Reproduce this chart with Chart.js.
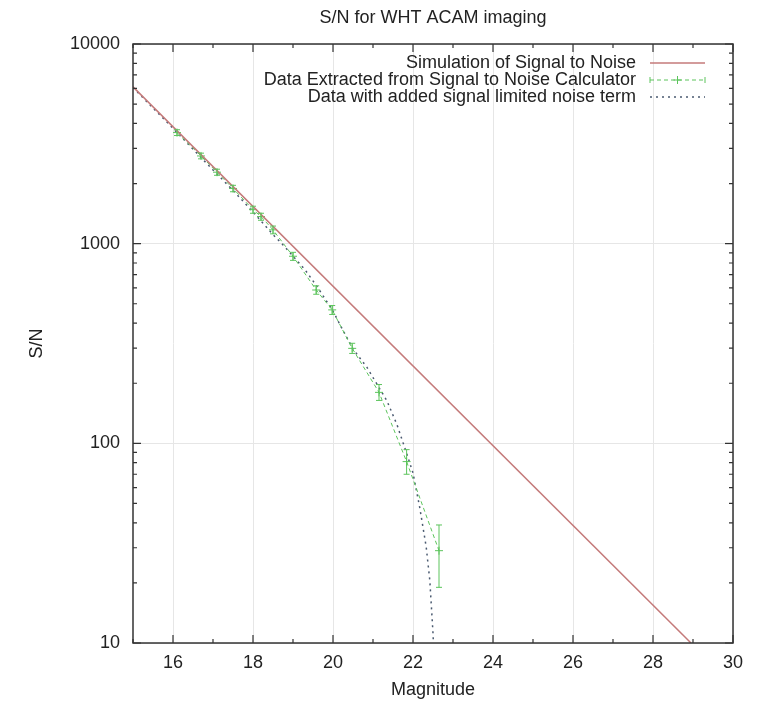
<!DOCTYPE html>
<html>
<head>
<meta charset="utf-8">
<title>S/N for WHT ACAM imaging</title>
<script src="https://cdn.jsdelivr.net/npm/chart.js@4.4.0/dist/chart.umd.min.js"></script>
<style>
  body { margin: 0; background: #fff; }
</style>
</head>
<body>
<canvas id="sn" width="758" height="706"></canvas>
<script>
// simulated S/N, straight line in log space
const simMag = [15, 28.95];
const simSN = [6100, 10];

// points read from the S/N calculator, with their error bars
const calcMag  = [16.1, 16.7, 17.1, 17.5, 18.0, 18.2, 18.5, 19.0, 19.58, 19.98, 20.48, 21.15, 21.84, 22.65];
const calcSN   = [3600, 2750, 2280, 1890, 1480, 1367, 1173, 865, 586, 466, 299, 180, 81, 29];
const calcLow  = [3480, 2660, 2200, 1820, 1420, 1310, 1120, 825, 558, 442, 282, 164, 70, 19];
const calcHigh = [3720, 2840, 2360, 1960, 1540, 1420, 1225, 905, 615, 490, 317, 197, 93, 39];

// model with the signal limited noise term added
const noiseMag = [15, 16, 17, 17.5, 18, 18.5, 18.75, 19.3, 19.6, 20, 20.2, 20.5, 20.85, 21.35, 21.6, 21.85, 22.0, 22.17, 22.33, 22.42, 22.5, 22.53];
const noiseSN  = [6050, 3780, 2340, 1850, 1440, 1110, 986, 740, 610, 460, 384, 297, 240, 163, 124, 88, 71, 47.5, 30.3, 20.6, 11.2, 8];

// axis ticks
const xTicks = [16, 18, 20, 22, 24, 26, 28, 30];
const yTicks = [10, 100, 1000, 10000];

const chartTitle = 'S/N for WHT ACAM imaging';

const toXY = (xs, ys) => xs.map((v, i) => ({ x: v, y: ys[i] }));

Chart.defaults.font.family = '"Liberation Sans", Arial, sans-serif';
Chart.defaults.font.size = 18;
Chart.defaults.color = '#222';

// gnuplot look: title over the plot box, inward ticks on every side, error bars and the key
const gnuplotFrame = {
  id: 'gnuplotFrame',
  afterDatasetsDraw(chart) {
    const { ctx, chartArea: a, scales: { x, y } } = chart;
    const green = chart.data.datasets[1].borderColor;

    // error bars
    ctx.save();
    ctx.strokeStyle = green;
    ctx.lineWidth = 1;
    ctx.beginPath();
    calcMag.forEach((m, i) => {
      const px = x.getPixelForValue(m);
      const lo = y.getPixelForValue(calcLow[i]);
      const hi = y.getPixelForValue(calcHigh[i]);
      ctx.moveTo(px, lo); ctx.lineTo(px, hi);
      ctx.moveTo(px - 3, lo); ctx.lineTo(px + 3, lo);
      ctx.moveTo(px - 3, hi); ctx.lineTo(px + 3, hi);
    });
    ctx.stroke();
    ctx.restore();

    // frame
    ctx.save();
    ctx.strokeStyle = '#333';
    ctx.lineWidth = 1.5;
    ctx.strokeRect(a.left, a.top, a.right - a.left, a.bottom - a.top);

    ctx.lineWidth = 1.2;
    ctx.beginPath();
    const xTick = (v, len) => {
      const px = x.getPixelForValue(v);
      ctx.moveTo(px, a.bottom); ctx.lineTo(px, a.bottom - len);
      ctx.moveTo(px, a.top); ctx.lineTo(px, a.top + len);
    };
    const yTick = (v, len) => {
      const py = y.getPixelForValue(v);
      ctx.moveTo(a.left, py); ctx.lineTo(a.left + len, py);
      ctx.moveTo(a.right, py); ctx.lineTo(a.right - len, py);
    };
    xTicks.forEach(v => { xTick(v, 8); xTick(v - 1, 4); });
    yTicks.forEach((d, i) => {
      yTick(d, 8);
      if (i < yTicks.length - 1) for (let k = 2; k < 10; k++) yTick(d * k, 4);
    });
    ctx.stroke();
    ctx.restore();

    ctx.save();
    ctx.font = '18px "Liberation Sans", Arial, sans-serif';
    ctx.fillStyle = '#222';
    ctx.textBaseline = 'middle';

    // title centred on the plot box
    ctx.textAlign = 'center';
    ctx.fillText(chartTitle, (a.left + a.right) / 2, 18);

    // key, text on the left and sample on the right
    ctx.textAlign = 'right';
    chart.data.datasets.forEach((ds, i) => {
      const ty = a.top + 19 + i * 17;
      const x0 = a.right - 83, x1 = a.right - 28;
      ctx.fillStyle = '#222';
      ctx.fillText(ds.label, a.right - 97, ty);
      ctx.strokeStyle = ds.borderColor;
      ctx.lineWidth = ds.borderWidth;
      ctx.setLineDash(ds.borderDash || []);
      ctx.beginPath();
      ctx.moveTo(x0, ty); ctx.lineTo(x1, ty);
      ctx.stroke();
      ctx.setLineDash([]);
      if (ds.pointRadius) {
        const mx = (x0 + x1) / 2;
        ctx.beginPath();
        ctx.moveTo(mx - 4, ty); ctx.lineTo(mx + 4, ty);
        ctx.moveTo(mx, ty - 4); ctx.lineTo(mx, ty + 4);
        ctx.moveTo(x0, ty - 3); ctx.lineTo(x0, ty + 3);
        ctx.moveTo(x1, ty - 3); ctx.lineTo(x1, ty + 3);
        ctx.stroke();
      }
    });
    ctx.restore();
  }
};

new Chart(document.getElementById('sn'), {
  type: 'line',
  data: {
    datasets: [
      {
        label: 'Simulation of Signal to Noise',
        data: toXY(simMag, simSN),
        borderColor: '#c47a7a',
        borderWidth: 1.5,
        pointRadius: 0
      },
      {
        label: 'Data Extracted from Signal to Noise Calculator',
        data: toXY(calcMag, calcSN),
        borderColor: '#5cc45c',
        borderWidth: 1,
        borderDash: [4, 3],
        pointStyle: 'cross',
        pointRadius: 4,
        pointBorderWidth: 1
      },
      {
        label: 'Data with added signal limited noise term',
        data: toXY(noiseMag, noiseSN),
        borderColor: '#4a5a70',
        borderWidth: 1.5,
        borderDash: [2, 4],
        pointRadius: 0
      }
    ]
  },
  options: {
    responsive: false,
    animation: false,
    layout: { padding: { top: 44, right: 25 } },
    plugins: {
      legend: { display: false },
      tooltip: { enabled: false },
      title: { display: false }
    },
    scales: {
      x: {
        type: 'linear',
        min: 15,
        max: 30,
        afterBuildTicks: s => { s.ticks = xTicks.map(v => ({ value: v })); },
        afterFit: s => { s.height = 63; },
        ticks: { padding: 9, maxRotation: 0 },
        grid: { color: '#e6e6e6', drawTicks: false },
        border: { display: false },
        title: { display: true, text: 'Magnitude', padding: { top: 0, bottom: 5 } }
      },
      y: {
        type: 'logarithmic',
        min: 10,
        max: 10000,
        afterBuildTicks: s => { s.ticks = yTicks.map(v => ({ value: v })); },
        afterFit: s => { s.width = 133; },
        ticks: { padding: 13, callback: v => String(v) },
        grid: { color: '#e6e6e6', drawTicks: false },
        border: { display: false },
        title: { display: true, text: 'S/N', padding: { top: 26, bottom: 0 } }
      }
    }
  },
  plugins: [gnuplotFrame]
});
</script>
</body>
</html>
